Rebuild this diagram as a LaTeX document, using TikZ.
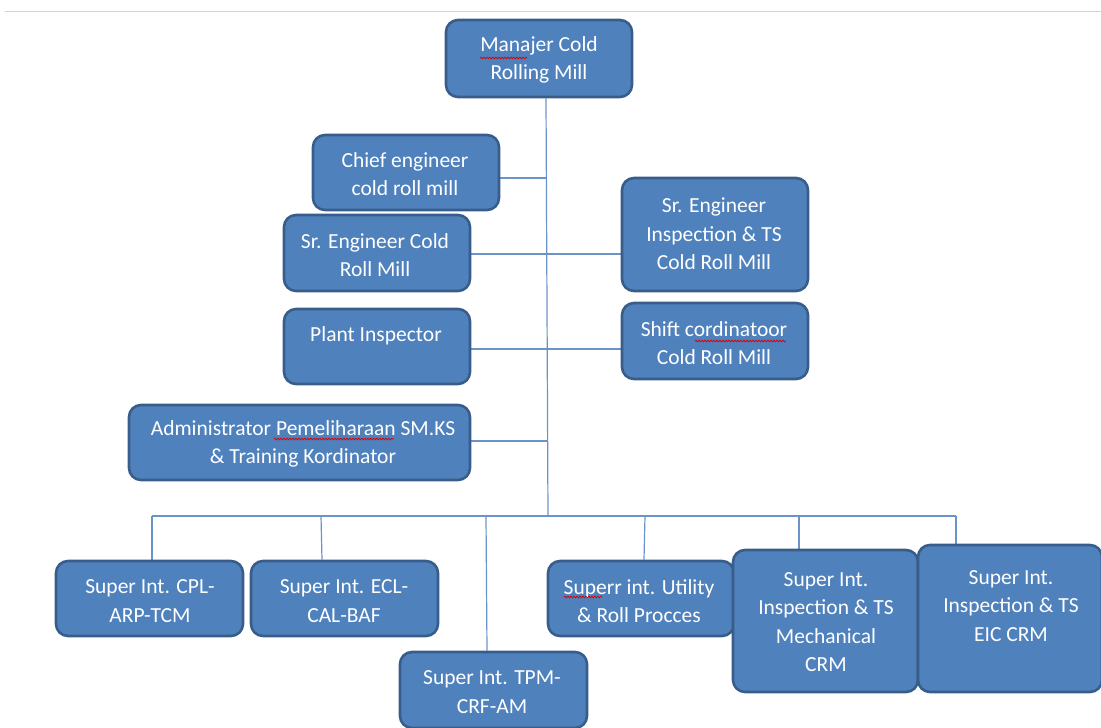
\documentclass[tikz,border=0pt]{standalone}
\usepackage{fontspec}
\setmainfont{Carlito}
\usetikzlibrary{decorations.pathmorphing,backgrounds}
\definecolor{boxfill}{HTML}{4F81BD}
\definecolor{boxline}{HTML}{385D8A}
\definecolor{conn}{HTML}{6A93C8}
\begin{document}
\begin{tikzpicture}[x=1pt,y=-1pt,
  orgbox/.style={draw=boxline,line width=2.6pt,fill=boxfill,rounded corners=12pt,inner sep=0pt},
  lbl/.style={text=white,align=center,font=\fontsize{21.5}{28.5}\selectfont,inner sep=0pt},
  conline/.style={draw=conn,line width=1.2pt},
  spell/.style={draw=red!85!black,line width=0.7pt,decorate,decoration={snake,segment length=3pt,amplitude=0.9pt}}]
\useasboundingbox (0,0) rectangle (1101,728);
\draw[gray!35,line width=1pt] (5,11) -- (1101,11);
% boxes: center, width, height
\newcommand{\obox}[6]{\node[orgbox,minimum width=#4pt,minimum height=#5pt] (#1) at (#2,#3) {};}
\obox{mgr}{539}{58.5}{186}{77}{}
\obox{chief}{406}{172.5}{186}{75}{}
\obox{srcold}{377}{253}{186}{76}{}
\obox{srinsp}{715}{234.5}{186}{113}{}
\obox{plant}{377}{346.5}{186}{75}{}
\obox{shift}{715}{341}{186}{76}{}
\obox{admin}{299.5}{442.5}{341}{75}{}
\obox{cpl}{149.5}{598.5}{187}{75}{}
\obox{ecl}{344.5}{598.5}{187}{75}{}
\obox{tpm}{493.5}{690}{187}{76}{}
\obox{util}{641}{598.5}{186}{75}{}
\obox{mech}{825.5}{621}{185}{142}{}
\obox{eic}{1010}{618.5}{184}{147}{}
% texts
\node[lbl] (tmgr) at (539,60) {Manajer Cold\\Rolling Mill};
\node[lbl] (tchief) at (405,174) {Chief engineer\\cold roll mill};
\node[lbl] (tsrcold) at (375,255) {Sr. Engineer Cold\\Roll Mill};
\node[lbl] (tsrinsp) at (714,234) {Sr. Engineer\\Inspection \& TS\\Cold Roll Mill};
\node[lbl] (tplant) at (376,336) {Plant Inspector};
\node[lbl] (tshift) at (714,343) {Shift cordinatoor\\Cold Roll Mill};
\node[lbl] (tadmin) at (303,444) {Administrator Pemeliharaan SM.KS\\\& Training Kordinator};
\node[lbl] (tcpl) at (150,601) {Super Int. CPL-\\ARP-TCM};
\node[lbl] (tecl) at (344,601) {Super Int. ECL-\\CAL-BAF};
\node[lbl] (ttpm) at (492,692) {Super Int. TPM-\\CRF-AM};
\node[lbl] (tutil) at (639,601) {Superr int. Utility\\\& Roll Procces};
\node[lbl] (tmech) at (826,622) {Super Int.\\Inspection \& TS\\Mechanical\\CRM};
\node[lbl] (teic) at (1011,606) {Super Int.\\Inspection \& TS\\EIC CRM};
% spelling underlines
\draw[spell] (480,58) -- (527,58);
\draw[spell] (695,341) -- (786,341);
\draw[spell] (274,439) -- (394,439);
\draw[spell] (564,597) -- (602,597);
% connectors
\coordinate (bus) at (548,516);
\coordinate (busL) at (152,516);
\coordinate (busR) at (956,516);
\begin{scope}[on background layer]
\draw[conline] (mgr.south -| 546,0) -- (bus);
\draw[conline] (busL) -- (busR);
\draw[conline] (chief.east |- 0,178) -- (547,178);
\draw[conline] (srcold.east |- 0,254) -- (srinsp.west |- 0,254);
\draw[conline] (plant.east |- 0,349) -- (shift.west |- 0,349);
\draw[conline] (admin.east |- 0,441) -- (548,441);
\draw[conline] (busL) -- (cpl.north -| busL);
\draw[conline] (321,516) -- (ecl.north -| 322,0);
\draw[conline] (486,516) -- (tpm.north -| 487,0);
\draw[conline] (645,516) -- (util.north -| 644,0);
\draw[conline] (799,516) -- (mech.north -| 799,0);
\draw[conline] (busR) -- (eic.north -| busR);
\end{scope}
\end{tikzpicture}
\end{document}
